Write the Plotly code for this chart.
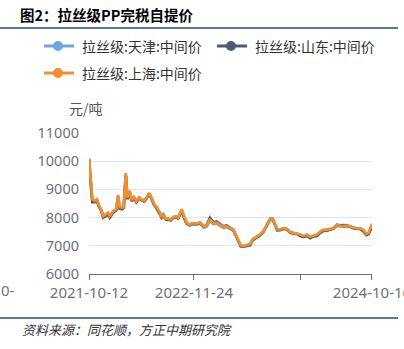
import plotly.graph_objects as go

dates = [
    "2021-10-12", "2021-10-15", "2021-10-25", "2021-11-03", "2021-11-12", "2021-11-20",
    "2021-11-29", "2021-12-06", "2021-12-16", "2021-12-25", "2022-01-01", "2022-01-14",
    "2022-01-26", "2022-02-02", "2022-02-08", "2022-02-19", "2022-02-24", "2022-03-04",
    "2022-03-10", "2022-03-19", "2022-03-27", "2022-04-04", "2022-04-14", "2022-04-25",
    "2022-05-04", "2022-05-13", "2022-05-23", "2022-06-03", "2022-06-12", "2022-06-21",
    "2022-07-01", "2022-07-12", "2022-07-21", "2022-07-27", "2022-08-07", "2022-08-16",
    "2022-08-25", "2022-09-04", "2022-09-15", "2022-09-24", "2022-10-07", "2022-10-16",
    "2022-10-26", "2022-11-06", "2022-11-19", "2022-12-04", "2022-12-17", "2023-01-02",
    "2023-01-12", "2023-01-25", "2023-02-07", "2023-02-20", "2023-03-05", "2023-03-18",
    "2023-03-31", "2023-04-13", "2023-04-26", "2023-05-06", "2023-05-16", "2023-05-25",
    "2023-06-04", "2023-06-17", "2023-06-30", "2023-07-10", "2023-07-19", "2023-07-29",
    "2023-08-08", "2023-08-21", "2023-09-03", "2023-09-16", "2023-09-26", "2023-10-05",
    "2023-10-14", "2023-10-25", "2023-11-07", "2023-11-20", "2023-12-03", "2023-12-16",
    "2023-12-31", "2024-01-11", "2024-01-24", "2024-02-06", "2024-02-19", "2024-03-03",
    "2024-03-16", "2024-03-29", "2024-04-11", "2024-04-24", "2024-05-07", "2024-05-20",
    "2024-06-02", "2024-06-15", "2024-06-28", "2024-07-11", "2024-07-24", "2024-08-06",
    "2024-08-19", "2024-09-01", "2024-09-14", "2024-09-24", "2024-10-03", "2024-10-16",
]

shanghai = [
    10100, 9700, 8650, 8600, 8650, 8420, 8280, 8050, 8100, 8170, 8060, 8230,
    8300, 8800, 8380, 8350, 8400, 9580, 8700, 8950, 8620, 8760, 8580, 8720,
    8650, 8600, 8700, 8870, 8700, 8500, 8380, 8220, 8020, 8120, 7960, 7970,
    7930, 8020, 8050, 8000, 8300, 8040, 7820, 7760, 7800, 7790, 7830, 7690,
    7710, 7920, 7800, 7820, 7750, 7670, 7690, 7630, 7570, 7390, 7160, 7020,
    7000, 7020, 7060, 7230, 7290, 7340, 7400, 7520, 7720, 7960, 7970, 7750,
    7580, 7580, 7630, 7600, 7490, 7460, 7440, 7400, 7350, 7400, 7320, 7370,
    7400, 7510, 7570, 7570, 7600, 7630, 7750, 7710, 7700, 7710, 7690, 7640,
    7620, 7620, 7560, 7420, 7460, 7780,
]

tianjin = [
    10080, 9650, 8600, 8580, 8620, 8400, 8250, 8030, 8080, 8150, 8050, 8200,
    8280, 8750, 8360, 8330, 8380, 9520, 8680, 8920, 8600, 8730, 8560, 8700,
    8630, 8580, 8680, 8850, 8690, 8480, 8370, 8200, 8060, 8150, 7940, 7950,
    7910, 8000, 8030, 7980, 8260, 8000, 7780, 7720, 7760, 7750, 7790, 7650,
    7680, 7880, 7770, 7790, 7720, 7640, 7660, 7600, 7540, 7360, 7130, 6980,
    6960, 6980, 7020, 7200, 7260, 7310, 7370, 7490, 7690, 7930, 7940, 7720,
    7540, 7550, 7600, 7570, 7460, 7430, 7410, 7360, 7310, 7370, 7270, 7340,
    7360, 7480, 7540, 7550, 7580, 7610, 7730, 7690, 7680, 7690, 7670, 7620,
    7600, 7600, 7520, 7400, 7440, 7700,
]

shandong = [
    10050, 9600, 8550, 8550, 8600, 8380, 8250, 8000, 8050, 8120, 8000, 8180,
    8260, 8720, 8320, 8300, 8350, 9480, 8650, 8900, 8580, 8720, 8550, 8680,
    8620, 8570, 8670, 8840, 8660, 8460, 8340, 8180, 8000, 8080, 7930, 7940,
    7900, 7990, 8020, 7970, 8250, 8010, 7800, 7740, 7790, 7770, 7810, 7680,
    7720, 7990, 7830, 7860, 7770, 7690, 7720, 7640, 7560, 7370, 7140, 6990,
    6980, 7000, 7030, 7200, 7260, 7320, 7380, 7500, 7700, 7950, 7960, 7740,
    7560, 7570, 7610, 7590, 7470, 7440, 7420, 7360, 7320, 7350, 7290, 7330,
    7350, 7460, 7530, 7540, 7570, 7620, 7740, 7720, 7730, 7720, 7680, 7630,
    7610, 7600, 7500, 7380, 7420, 7680,
]

series_names = ["拉丝级:天津:中间价", "拉丝级:山东:中间价", "拉丝级:上海:中间价"]
series_colors = ["#6AA8E0", "#4B5B79", "#F28E2B"]
series_values = [tianjin, shandong, shanghai]

x_tick_vals = ["2021-10-12", "2022-11-24", "2024-01-12", "2024-10-16"]
x_tick_text = ["2021-10-12", "2022-11-24", "", "2024-10-16"]
y_tick_vals = [6000, 7000, 8000, 9000, 10000, 11000]
y_tick_text = ["6000", "7000", "8000", "9000", "10000", "11000"]

AX = "#6E7079"
TICK_FONT = "Noto Sans, sans-serif"
CJK_FONT = "Noto Sans CJK SC, Noto Sans, sans-serif"

fig = go.Figure()
for name, color, vals in zip(series_names, series_colors, series_values):
    fig.add_trace(go.Scatter(
        x=dates, y=vals, mode="lines", name=name, showlegend=False,
        line=dict(color=color, width=2.8), hoverinfo="skip",
    ))

W, H = 404, 349
L, R, T, B = 89, 32, 133, 75
pw, ph = W - L - R, H - T - B


def px(xp):
    return (xp - L) / pw


def py(yp):
    return (H - B - yp) / ph


fig.update_layout(
    width=W, height=H, autosize=False,
    margin=dict(l=L, r=R, t=T, b=B, pad=0),
    paper_bgcolor="white", plot_bgcolor="white",
    font=dict(family=CJK_FONT, size=14, color=AX),
    showlegend=False,
    xaxis=dict(
        type="date", range=["2021-10-12", "2024-10-16 02:00"],
        tickmode="array", tickvals=x_tick_vals, ticktext=x_tick_text,
        showgrid=False, showline=True, linecolor=AX, linewidth=1,
        ticks="outside", ticklen=5, tickcolor=AX, tickwidth=1,
        tickfont=dict(size=15, color=AX, family=TICK_FONT),
        zeroline=False, automargin=False, ticklabeloverflow="allow",
    ),
    yaxis=dict(
        range=[6000, 11000], tickmode="array", tickvals=y_tick_vals, ticktext=y_tick_text,
        showgrid=True, gridcolor="#E0E6F1", gridwidth=1,
        showline=False, zeroline=False, ticks="", ticklabelstandoff=9,
        tickfont=dict(size=14.5, color=AX, family=TICK_FONT), automargin=False,
    ),
)

# legend (drawn manually to match the two-row layout)
legend_pos = [(44, 46), (217, 46), (44, 73)]
for (lx, ly), name, color in zip(legend_pos, series_names, series_colors):
    fig.add_shape(
        type="line", xref="paper", yref="paper",
        x0=px(lx), x1=px(lx + 30), y0=py(ly), y1=py(ly),
        line=dict(color=color, width=3),
    )
    cx = lx + 14
    fig.add_shape(
        type="circle", xref="paper", yref="paper",
        x0=px(cx - 5), x1=px(cx + 5), y0=py(ly + 5), y1=py(ly - 5),
        line=dict(color=color, width=0), fillcolor=color,
    )
    fig.add_annotation(
        xref="paper", yref="paper", x=px(lx + 36), y=py(ly), xanchor="left", yanchor="middle",
        text=name, showarrow=False, font=dict(size=14, color="#333333", family=CJK_FONT),
    )

fig.add_annotation(
    xref="paper", yref="paper", x=px(18), y=py(15), xanchor="left", yanchor="middle",
    text="<b>图2：拉丝级PP完税自提价</b>", showarrow=False,
    font=dict(size=14.5, color="#000000", family=CJK_FONT),
)
fig.add_annotation(
    xref="paper", yref="paper", x=px(86), y=py(108), xanchor="center", yanchor="middle",
    text="元/吨", showarrow=False, font=dict(size=14, color="#555555", family=CJK_FONT),
)
fig.add_annotation(
    xref="paper", yref="paper", x=px(-1), y=py(290), xanchor="left", yanchor="middle",
    text="0-", showarrow=False, font=dict(size=15, color=AX, family=TICK_FONT),
)
fig.add_annotation(
    xref="paper", yref="paper", x=px(20), y=py(329), xanchor="left", yanchor="middle",
    text="资料来源：同花顺，方正中期研究院", showarrow=False,
    font=dict(size=13, color="#333333", style="italic", family=CJK_FONT),
)
for yl in (28, 318):
    fig.add_shape(
        type="line", xref="paper", yref="paper",
        x0=px(0), x1=px(398), y0=py(yl), y1=py(yl),
        line=dict(color="#1F4E79", width=1.5),
    )

fig.write_html("out.html")
